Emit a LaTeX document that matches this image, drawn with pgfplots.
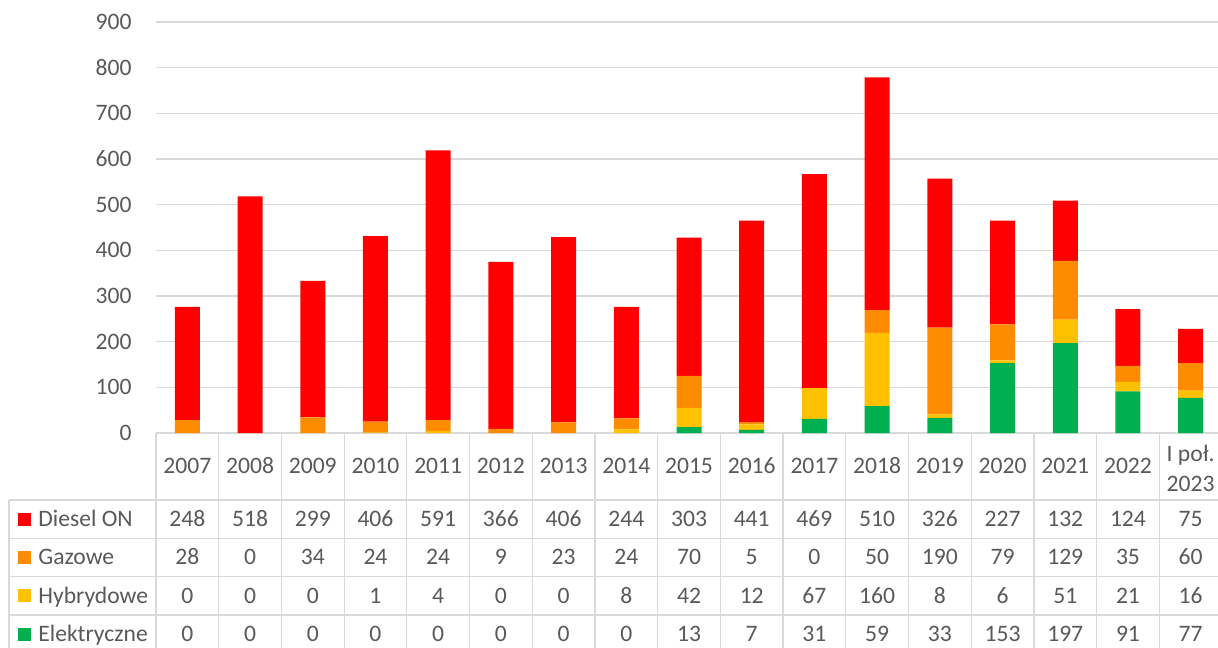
\documentclass[border=0pt]{standalone}
\usepackage{pgfplots}
\pgfplotsset{compat=1.18}
\usepackage{pgfplotstable}
\usepackage{fontspec}
\setmainfont{Carlito}
\definecolor{cDiesel}{HTML}{FF0000}
\definecolor{cGaz}{HTML}{FF8C00}
\definecolor{cHyb}{HTML}{FFC000}
\definecolor{cEle}{HTML}{00B050}
\definecolor{txt}{HTML}{595959}
\definecolor{grd}{HTML}{D9D9D9}

\pgfplotstableread{
x year diesel gaz hyb ele
0 2007 248 28 0 0
1 2008 518 0 0 0
2 2009 299 34 0 0
3 2010 406 24 1 0
4 2011 591 24 4 0
5 2012 366 9 0 0
6 2013 406 23 0 0
7 2014 244 24 8 0
8 2015 303 70 42 13
9 2016 441 5 12 7
10 2017 469 0 67 31
11 2018 510 50 160 59
12 2019 326 190 8 33
13 2020 227 79 6 153
14 2021 132 129 51 197
15 2022 124 35 21 91
16 2023 75 60 16 77
}\data

\begin{document}
\fontsize{11.8}{13}\selectfont
\begin{tikzpicture}
\begin{axis}[
  at={(0,0)}, anchor=south west,
  scale only axis, width=533pt, height=205.5pt,
  ybar stacked, bar width=12.5pt,
  xmin=-0.5, xmax=16.5, ymin=0, ymax=900,
  ytick={0,100,...,900}, xtick=\empty,
  ymajorgrids, grid style={grd, line width=0.6pt},
  axis line style={draw=none}, major tick length=0pt,
  yticklabel style={txt, inner sep=0pt, xshift=-12pt},
  /pgf/number format/assume math mode=true,
  clip=false,
]
\addplot[fill=cEle, draw=none] table[x=x, y=ele] {\data};
\addplot[fill=cHyb, draw=none] table[x=x, y=hyb] {\data};
\addplot[fill=cGaz, draw=none] table[x=x, y=gaz] {\data};
\addplot[fill=cDiesel, draw=none] table[x=x, y=diesel] {\data};
\end{axis}

% data table below the chart
\foreach \k in {0,...,17}
  \draw[grd, line width=0.6pt] ({\k*31.3529pt},0) -- ({\k*31.3529pt},-110.2pt);
\draw[grd, line width=0.6pt] (-73.5pt,-33.5pt) -- (-73.5pt,-110.2pt);
\foreach \r in {0,...,4}
  \draw[grd, line width=0.6pt] (-73.5pt,{-33.5pt-\r*19.17pt}) -- (533pt,{-33.5pt-\r*19.17pt});

\tikzset{cell/.style={txt, inner sep=0pt, text height=0.63em, text depth=0pt}}
\foreach \lab [count=\i from 0] in {2007,2008,2009,2010,2011,2012,2013,2014,2015,2016,2017,2018,2019,2020,2021,2022}
  \node[cell] at ({(\i+0.5)*31.3529pt},-16.5pt) {\lab};
\node[txt, align=center, inner sep=0pt, font=\fontsize{11.8}{15}\selectfont] at ({16.5*31.3529pt},-17.8pt) {I poł.\\2023};

\foreach \col/\name/\clr [count=\r] in {diesel/Diesel ON/cDiesel, gaz/Gazowe/cGaz, hyb/Hybrydowe/cHyb, ele/Elektryczne/cEle} {
  \pgfmathsetmacro\yy{-33.5-(\r-0.5)*19.17}
  \fill[\clr] (-69pt,{\yy pt-3.25pt}) rectangle ++(6.5pt,6.5pt);
  \node[cell, anchor=west] at (-59pt,\yy pt) {\name};
  \foreach \i in {0,...,16} {
    \pgfplotstablegetelem{\i}{\col}\of\data
    \node[cell] at ({(\i+0.5)*31.3529pt},\yy pt) {\pgfplotsretval};
  }
}

\pgfresetboundingbox
\path[use as bounding box] (-78pt,-107pt) rectangle (531pt,216.5pt);
\end{tikzpicture}
\end{document}
